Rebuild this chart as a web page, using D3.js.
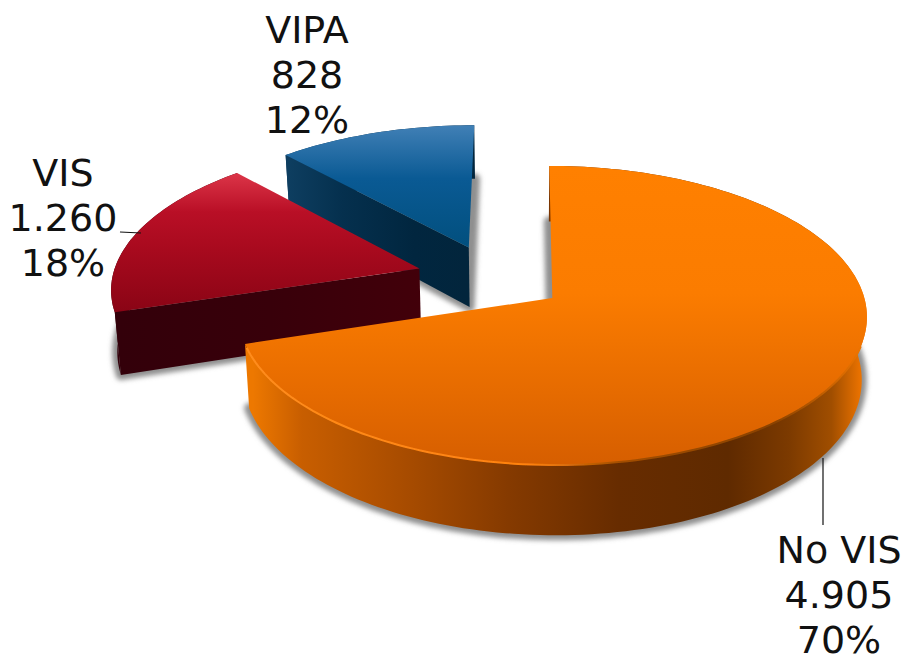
<!DOCTYPE html>
<html>
<head>
<meta charset="utf-8">
<script src="https://cdn.jsdelivr.net/npm/d3@7"></script>
<style>
    html, body { margin: 0; padding: 0; background: #fff; }
    svg { display: block; }
    text { font-family: "DejaVu Sans", sans-serif; font-size: 38px; fill: #111; text-anchor: middle; }
</style>
</head>
<body>
<script>
// values
const categories = ['No VIS', 'VIS', 'VIPA'];
const counts = [4905, 1260, 828];
const countLabels = ['4.905', '1.260', '828'];
const percentLabels = ['70%', '18%', '12%'];

// how far each slice is pulled out of the pie, in units of the radius
const explodeU = [0.094, -0.34, -0.181];
const explodeV = [0, -0.205, -0.357];

const width = 909, height = 655;

// perspective: k is how quickly things grow towards the viewer
const k = 0.117, depth = 62, taper = 0.015;
const xScale = d3.scaleLinear().domain([-1, 1]).range([523 - 312, 523 + 312]);
const yScale = d3.scaleLinear().domain([-1, 1]).range([298 - 147.5, 298 + 147.5]);

function project(u, v, z) {
    let f = 1 / (1 - k * v);
    let x = xScale(0) + (xScale(u) - xScale(0)) * f * (1 - taper * z);
    let y = yScale(0) + (yScale(v) - yScale(0)) * f + depth * z * f;
    return [x, y];
}

const pie = d3.pie().sort(null).value(function(d) { return d; });
const slices = pie(counts);

const toPath = d3.line();

function rimPoint(i, a, z) {
    return project(explodeU[i] + Math.sin(a), explodeV[i] - Math.cos(a), z);
}

function apex(i, z) {
    return project(explodeU[i], explodeV[i], z);
}

function arcPoints(i, s, z) {
    let n = Math.ceil((s.endAngle - s.startAngle) * 40);
    return d3.range(n + 1).map(function(j) {
        return rimPoint(i, s.startAngle + (s.endAngle - s.startAngle) * j / n, z);
    });
}

function topFace(i, s, z) {
    return toPath([apex(i, z)].concat(arcPoints(i, s, z))) + 'Z';
}

function gradient(defs, id, x1, y1, x2, y2, stops) {
    let g = defs.append('linearGradient')
        .attr('id', id)
        .attr('gradientUnits', 'userSpaceOnUse')
        .attr('x1', x1).attr('y1', y1)
        .attr('x2', x2).attr('y2', y2);
    stops.forEach(function(st) {
        g.append('stop').attr('offset', st[0]).attr('stop-color', st[1]);
    });
}

const svg = d3.select('body').append('svg')
    .attr('width', width)
    .attr('height', height);

const defs = svg.append('defs');
defs.append('filter').attr('id', 'soft')
    .attr('x', '-20%').attr('y', '-20%').attr('width', '140%').attr('height', '140%')
    .append('feGaussianBlur').attr('stdDeviation', 2.6);
defs.append('filter').attr('id', 'edge')
    .attr('x', '-5%').attr('y', '-5%').attr('width', '110%').attr('height', '110%')
    .append('feGaussianBlur').attr('stdDeviation', 0.7);

// top faces
gradient(defs, 'top0', 0, 168, 0, 467, [[0, '#ff8000'], [0.42, '#fb7c00'], [1, '#d65e00']]);
gradient(defs, 'top1', 0, 173, 0, 312, [[0, '#dc3548'], [0.28, '#b90f26'], [0.55, '#a80a1e'], [1, '#8a0415']]);
gradient(defs, 'top2', 0, 125, 0, 244, [[0, '#4180b6'], [0.45, '#0a5a94'], [1, '#02507f']]);

// side walls
gradient(defs, 'side0', 253, 0, 862, 0, [
    [0, '#ed7800'], [0.08, '#c85e00'], [0.25, '#a84c00'], [0.42, '#853a00'],
    [0.6, '#672c00'], [0.78, '#5f2a00'], [0.88, '#7c3a00'], [0.95, '#a04e00'], [1, '#ee7400']
]);
gradient(defs, 'side1', 119, 0, 422, 0, [[0, '#33000a'], [0.5, '#38000a'], [1, '#42000a']]);
gradient(defs, 'side2', 288, 0, 468, 0, [[0, '#0e3e60'], [0.3, '#05304e'], [0.7, '#01263f'], [1, '#02253c']]);

// lit edge along the front of the big slice
gradient(defs, 'rim0', 253, 0, 867, 0, [
    [0, '#ff8c1c'], [0.45, '#ff8210'], [0.6, '#a34e00'], [0.85, '#8a4200'], [1, '#f47800']
]);

// back to front so the orange slice ends up over the others
[2, 1, 0].forEach(function(i) {
    let s = slices[i];
    let g = svg.append('g').attr('class', 'slice');

    g.append('path')
        .attr('d', topFace(i, s, 1))
        .attr('fill', '#8f8f8f')
        .attr('stroke', '#8f8f8f')
        .attr('stroke-width', 10)
        .attr('stroke-linejoin', 'round')
        .attr('filter', 'url(#soft)');

    // outer wall
    let top = arcPoints(i, s, 0), bottom = arcPoints(i, s, 1).reverse();
    g.append('path')
        .attr('d', toPath(top.concat(bottom)) + 'Z')
        .attr('fill', 'url(#side' + i + ')');

    // the cut face is only seen when it looks towards the viewer
    if (-Math.sin(s.startAngle) > 0) {
        g.append('path')
            .attr('d', toPath([apex(i, 0), rimPoint(i, s.startAngle, 0), rimPoint(i, s.startAngle, 1), apex(i, 1)]) + 'Z')
            .attr('fill', 'url(#side' + i + ')');
    }

    g.append('path')
        .attr('d', topFace(i, s, 0))
        .attr('fill', 'url(#top' + i + ')');

    if (i === 0) {
        g.append('path')
            .attr('d', toPath(arcPoints(i, s, 0).filter(function(p) { return p[1] > 345; })))
            .attr('fill', 'none')
            .attr('stroke', 'url(#rim0)')
            .attr('stroke-width', 2)
            .attr('filter', 'url(#edge)');
    }
});

// leader lines
const leaderX = [823, 120], leaderY = [458, 232], leaderX2 = [823, 141], leaderY2 = [525, 233];
leaderX.forEach(function(x, i) {
    svg.append('line')
        .attr('x1', x).attr('y1', leaderY[i])
        .attr('x2', leaderX2[i]).attr('y2', leaderY2[i])
        .attr('stroke', '#111')
        .attr('stroke-width', 1.2);
});

// labels
const labelX = [839, 63, 307];
const labelY = [563, 186, 43];
const lineGap = 45;
categories.forEach(function(name, i) {
    [name, countLabels[i], percentLabels[i]].forEach(function(line, j) {
        svg.append('text')
            .attr('x', labelX[i])
            .attr('y', labelY[i] + j * lineGap)
            .text(line);
    });
});
</script>
</body>
</html>
